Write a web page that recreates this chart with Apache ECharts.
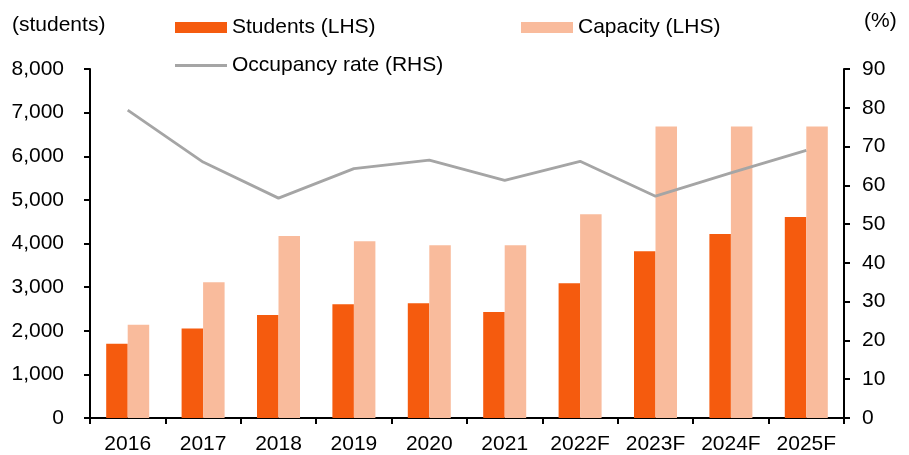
<!DOCTYPE html>
<html>
<head>
<meta charset="utf-8">
<script src="https://cdn.jsdelivr.net/npm/echarts@6/dist/echarts.min.js"></script>
<style>html,body{margin:0;padding:0;background:#fff;}#c{width:909px;height:455px;}</style>
</head>
<body>
<div id="c"></div>
<script>
const categories = ['2016','2017','2018','2019','2020','2021','2022F','2023F','2024F','2025F'];
const students = [1700, 2050, 2360, 2605, 2630, 2428, 3090, 3823, 4220, 4610];
const capacity = [2140, 3112, 4174, 4052, 3960, 3960, 4671, 6682, 6682, 6682];
const occupancy = [79.4, 66.0, 56.7, 64.3, 66.5, 61.3, 66.2, 57.2, 63.2, 69.0];
const leftTicks = { min: 0, max: 8000, interval: 1000 };
const rightTicks = { min: 0, max: 90, interval: 10 };

const FONT = 'Liberation Sans, Arial, sans-serif';
const FS = 21;
const chart = echarts.init(document.getElementById('c'), null, { renderer: 'canvas' });
const axisLine = { show: true, lineStyle: { color: '#000', width: 2 } };
const axisTick = { show: true, length: 6, lineStyle: { color: '#000', width: 2 } };
const legendBase = { padding: 0, itemWidth: 52, itemHeight: 11, itemGap: 6,
  textStyle: { fontFamily: FONT, fontSize: FS, color: '#000', padding: [0,0,0,0] } };

chart.setOption({
  animation: false,
  backgroundColor: '#fff',
  textStyle: { fontFamily: FONT },
  grid: { left: 90, right: 65, top: 69, bottom: 37, containLabel: false },
  graphic: [
    { type: 'text', left: 12, top: 15, style: { text: '(students)', fontFamily: FONT, fontSize: FS, fill: '#000' } },
    { type: 'text', left: 864, top: 11, style: { text: '(%)', fontFamily: FONT, fontSize: FS, fill: '#000' } }
  ],
  legend: [
    Object.assign({}, legendBase, { left: 175, top: 17, data: [{ name: 'Students (LHS)', icon: 'rect' }] }),
    Object.assign({}, legendBase, { left: 521, top: 17, data: [{ name: 'Capacity (LHS)', icon: 'rect' }] }),
    Object.assign({}, legendBase, { left: 175, top: 55, itemHeight: 3,
      data: [{ name: 'Occupancy rate (RHS)', icon: 'rect', itemStyle: { color: '#A5A5A5' } }] })
  ],
  xAxis: {
    type: 'category',
    data: categories,
    axisLine: axisLine,
    axisTick: axisTick,
    axisLabel: { color: '#000', fontFamily: FONT, fontSize: FS, margin: 16, interval: 0 },
    splitLine: { show: false }
  },
  yAxis: [
    {
      type: 'value', min: leftTicks.min, max: leftTicks.max, interval: leftTicks.interval,
      axisLine: axisLine, axisTick: axisTick, splitLine: { show: false },
      axisLabel: { color: '#000', fontFamily: FONT, fontSize: FS, margin: 26,
        formatter: v => v.toLocaleString('en-US') }
    },
    {
      type: 'value', min: rightTicks.min, max: rightTicks.max, interval: rightTicks.interval,
      position: 'right',
      axisLine: axisLine, axisTick: axisTick, splitLine: { show: false },
      axisLabel: { color: '#000', fontFamily: FONT, fontSize: FS, margin: 18 }
    }
  ],
  series: [
    { name: 'Students (LHS)', type: 'bar', data: students, yAxisIndex: 0,
      barWidth: 21.5, barGap: '0%',
      itemStyle: { color: '#F55B0E' } },
    { name: 'Capacity (LHS)', type: 'bar', data: capacity, yAxisIndex: 0,
      barWidth: 21.5, barGap: '0%',
      itemStyle: { color: '#F9BB9C' } },
    { name: 'Occupancy rate (RHS)', type: 'line', data: occupancy, yAxisIndex: 1,
      symbol: 'none', showSymbol: false,
      lineStyle: { color: '#A5A5A5', width: 2.8 }, itemStyle: { color: '#A5A5A5' } }
  ]
});
</script>
</body>
</html>
